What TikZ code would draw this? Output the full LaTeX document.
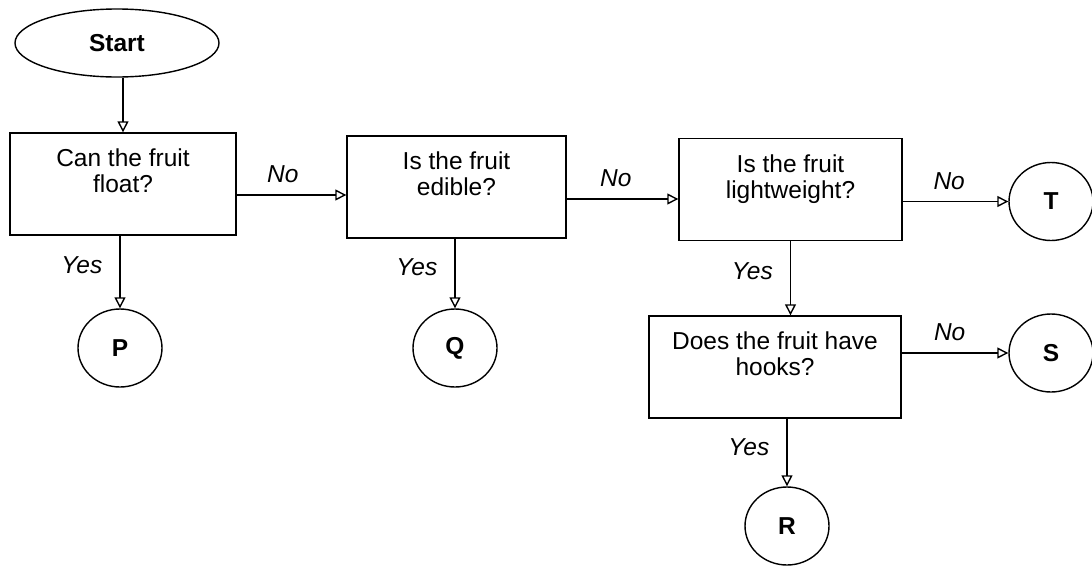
\documentclass[tikz,border=0pt]{standalone}
\usepackage{fontspec}
\setmainfont{Liberation Sans}
\usetikzlibrary{shapes.geometric}
\usetikzlibrary{arrows.meta}

\begin{document}
\fontsize{24.5}{26}\selectfont
\begin{tikzpicture}
  \tikzset{
    term/.style={draw, ellipse, line width=1.4pt, minimum width=204pt, minimum height=68pt, font=\bfseries},
    question/.style={draw, rectangle, line width=1.4pt, align=center, minimum height=102pt},
    answer/.style={draw, ellipse, line width=1.4pt, minimum width=84pt, minimum height=78pt, inner sep=0pt, font=\bfseries},
    line/.style={draw, line width=1.4pt, -{Triangle[open, length=11pt, width=11pt]}},
    yeslbl/.style={left=17pt, inner sep=0pt, font=\itshape},
    nolbl/.style={above=11.5pt, inner sep=0pt, font=\itshape},
  }
  \useasboundingbox (0,0) rectangle (1092pt,-565pt);

  \node [term] (start) at (117pt,-43pt) {Start};
  \node [question, minimum width=226pt, below of=start, node distance=141pt, xshift=6pt] (fl) {Can the fruit\\float?\\~};
  \node [question, minimum width=219pt, right of=fl, node distance=333.5pt, yshift=-3pt] (ed) {Is the fruit\\edible?\\~};
  \node [question, minimum width=223pt, right of=ed, node distance=334pt, yshift=-2.5pt] (lw) {Is the fruit\\lightweight?\\~};
  \node [question, minimum width=252pt, below of=lw, node distance=177.5pt, xshift=-15.5pt] (hk) {Does the fruit have\\hooks?\\~};

  \node [answer, below of=fl, node distance=164pt, xshift=-3pt] (p) {P};
  \node [answer, below of=ed, node distance=161pt, xshift=-1.5pt] (q) {Q};
  \node [answer, right of=lw, node distance=260.5pt, yshift=-12pt] (t) {T};
  \node [answer, right of=hk, node distance=276pt, yshift=14pt] (s) {S};
  \node [answer, below of=hk, node distance=159pt, xshift=12pt] (r) {R};

  \path [line] (start.south -| fl) -- (fl.north);
  \path [line] (fl.south -| p) -- (p.north) node [yeslbl, pos=0.41] {Yes};
  \path [line] ([yshift=-11pt]fl.east) -- ([yshift=-8pt]ed.west) node [nolbl, pos=0.42] {No};
  \path [line] (ed.south -| q) -- (q.north) node [yeslbl, pos=0.41] {Yes};
  \path [line] ([yshift=-12pt]ed.east) -- ([yshift=-9.5pt]lw.west) node [nolbl, pos=0.44] {No};
  \path [line] ([yshift=-12pt]lw.east) -- (t) node [nolbl, pos=0.44] {No};
  \path [line] (lw.south) -- (lw.south |- hk.north) node [yeslbl, pos=0.41] {Yes};
  \path [line] ([yshift=14pt]hk.east) -- (s) node [nolbl, pos=0.45] {No};
  \path [line] (hk.south -| r) -- (r.north) node [yeslbl, pos=0.42] {Yes};

\end{tikzpicture}
\end{document}
